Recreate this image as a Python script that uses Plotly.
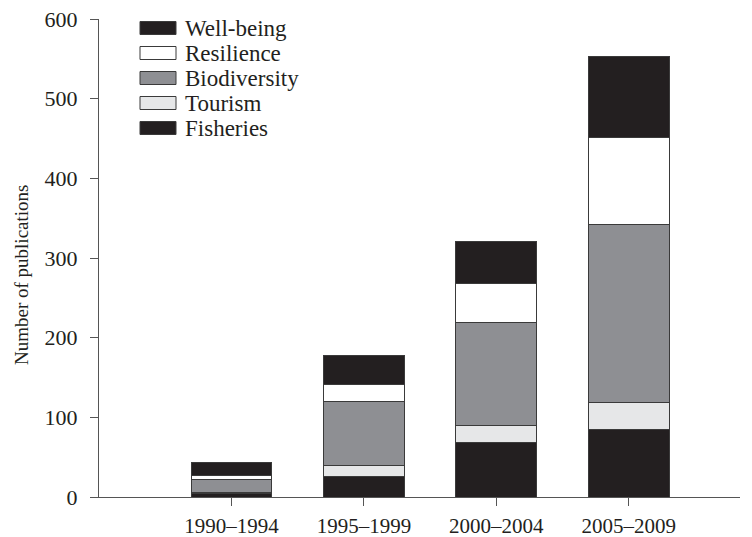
import plotly.graph_objects as go

categories = ["1990\u20131994", "1995\u20131999", "2000\u20132004", "2005\u20132009"]
fisheries = [4, 26, 69, 85]
tourism = [2, 14, 21, 34]
biodiversity = [16, 80, 129, 223]
resilience = [5, 21, 49, 109]
wellbeing = [16, 36, 53, 102]

series_names = ["Fisheries", "Tourism", "Biodiversity", "Resilience", "Well-being"]
series_values = [fisheries, tourism, biodiversity, resilience, wellbeing]
series_colors = ["#231f20", "#e6e7e8", "#8e8f93", "#ffffff", "#231f20"]

y_ticks = [0, 100, 200, 300, 400, 500, 600]
y_title = "Number of publications"

FONT = "Liberation Serif"
W, H = 752, 537
ML, MR, MT, MB = 99, 12, 19, 40
PW, PH = W - ML - MR, H - MT - MB

fig = go.Figure()
for name, vals, col in zip(series_names, series_values, series_colors):
    fig.add_trace(go.Bar(
        x=categories, y=vals, name=name, width=0.61,
        marker=dict(color=col, line=dict(color="#3a3a3a", width=1)),
        showlegend=False,
    ))

# custom legend (top to bottom: reverse stacking order)
def px_x(p):
    return (p - ML) / PW

def px_y(p):
    return 1 - (p - MT) / PH

shapes = []
annotations = []
for i, (name, col) in enumerate(zip(series_names[::-1], series_colors[::-1])):
    cy = 28 + 25 * i
    shapes.append(dict(type="rect", xref="paper", yref="paper",
                       x0=px_x(140), x1=px_x(176), y0=px_y(cy + 6.5), y1=px_y(cy - 6.5),
                       fillcolor=col, line=dict(color="#3a3a3a", width=1)))
    annotations.append(dict(xref="paper", yref="paper", x=px_x(183), y=px_y(cy),
                            xanchor="left", yanchor="middle", showarrow=False,
                            text=name, font=dict(family=FONT, size=23, color="#231f20")))

# y-axis title (placed as in the reference, slightly below centre)
annotations.append(dict(xref="paper", yref="paper", x=px_x(21), y=px_y(275),
                        xanchor="center", yanchor="middle", showarrow=False, textangle=-90,
                        text=y_title, font=dict(family=FONT, size=19, color="#231f20")))

fig.update_layout(
    width=W, height=H,
    margin=dict(l=ML, r=MR, t=MT, b=MB, autoexpand=False),
    barmode="stack",
    plot_bgcolor="white", paper_bgcolor="white",
    font=dict(family=FONT, size=22, color="#231f20"),
    shapes=shapes, annotations=annotations,
    xaxis=dict(type="category", range=[-1.0, 3.84], showline=True, linecolor="#555555",
               linewidth=1.3, ticks="outside", ticklen=8, tickcolor="#555555", tickwidth=1.3,
               showgrid=False, zeroline=False, tickfont=dict(size=21), automargin=False,
               ticklabelstandoff=2),
    yaxis=dict(range=[0, 600], tickvals=y_ticks, showline=True, linecolor="#555555",
               linewidth=1.3, ticks="outside", ticklen=8, tickcolor="#555555", tickwidth=1.3,
               showgrid=False, zeroline=False, tickfont=dict(size=22), automargin=False,
               ticklabelstandoff=8),
)

fig.write_html("out.html", config={"displayModeBar": False},
               post_script="document.body.style.margin='0';document.body.style.overflow='hidden';")
